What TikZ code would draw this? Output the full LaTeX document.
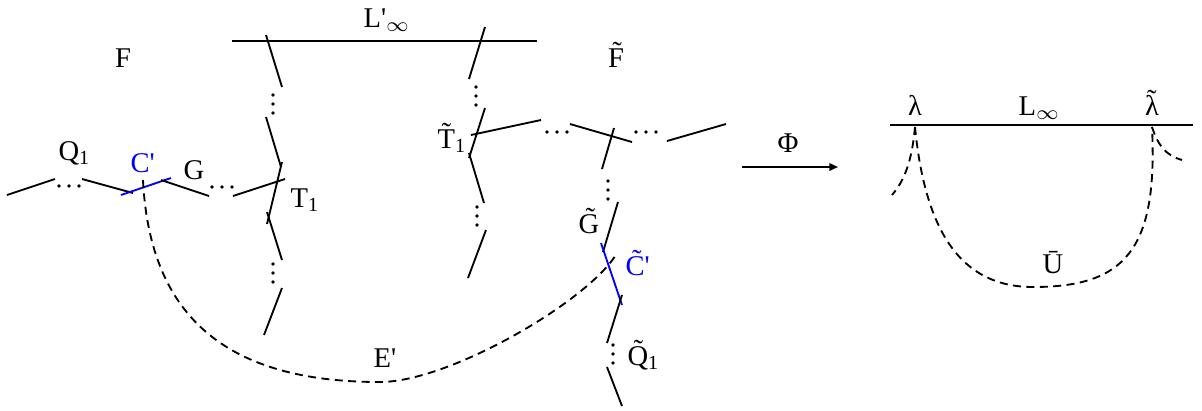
\documentclass[tikz,border=0pt]{standalone}
\usepackage{fontspec}
\setmainfont{Liberation Serif}
\usetikzlibrary{arrows.meta}

% three dots in a row / in a column, in px units
\newcommand{\rowdots}[2]{\foreach \k in {-1,0,1} \fill (#1+\k*10,#2) circle (0.65pt);}
\newcommand{\coldots}[2]{\foreach \k in {-1,0,1} \fill (#1,#2+\k*9) circle (0.65pt);}
\newcommand{\tq}{\textquotesingle}
\newcommand{\tildelam}{\ooalign{λ\cr\hidewidth\raisebox{0.2em}{\char"02DC}\hidewidth\cr}}

\begin{document}
\begin{tikzpicture}[
    x=0.35pt, y=-0.35pt,
    font=\fontsize{10}{12}\selectfont,
    seg/.style={line width=0.65pt},
    curve/.style={seg, blue},
    dashline/.style={seg, dash pattern=on 2.8pt off 1.9pt},
    lbl/.style={inner sep=0pt, anchor=base west},
    clbl/.style={inner sep=0pt, anchor=base}
]
\useasboundingbox (0,0) rectangle (1202,410);

% line at infinity of F
\draw[seg] (232,41) -- (537,41);

% left horizontal chain
\draw[seg] (7,195) -- (55,179);
\rowdots{69}{186}
\draw[seg] (82,179) -- (133,193);
\draw[curve] (121,195) -- (171,178);
\draw[seg] (161,180) -- (209,196);
\rowdots{222}{187}
\draw[seg] (233,196) -- (285,179);

% left vertical chain
\draw[seg] (266,35) -- (282,87);
\coldots{273}{104}
\draw[seg] (266,117) -- (281,167);
\draw[seg] (282,162) -- (267,224);
\draw[seg] (267,212) -- (282,260);
\coldots{273}{273}
\draw[seg] (282,288) -- (264,335);

% middle vertical chain
\draw[seg] (485,27) -- (469,79);
\coldots{476}{96}
\draw[seg] (485,108) -- (469,158);
\draw[seg] (469,153) -- (484,203);
\coldots{477}{216}
\draw[seg] (486,230) -- (468,278);

% upper horizontal chain of F~
\draw[seg] (471,135) -- (541,120);
\rowdots{557}{132}
\draw[seg] (570,124) -- (632,142);
\rowdots{646}{132}
\draw[seg] (667,141) -- (726,124);

% right vertical chain
\draw[seg] (614,128) -- (602,169);
\coldots{608}{190}
\draw[seg] (618,202) -- (603,252);
\draw[curve] (601,243) -- (622,305);
\draw[seg] (622,295) -- (607,343);
\coldots{613}{354}
\draw[seg] (607,367) -- (622,406);

% the exceptional curve E'
\draw[dashline] (143,180) .. controls (150,320) and (230,382) .. (380,382)
    .. controls (450,382) and (590,300) .. (617,253);

% labels, left part
\node[clbl] (F) at (123,67) {F};
\node[lbl] (Lp) at (363,27) {L\tq\textsubscript{$\infty$}};
\node[lbl] (Q) at (58,160) {Q\textsubscript{1}};
\node[lbl, text=blue] (Cp) at (130,172) {C\tq};
\node[lbl] (G) at (183,179) {G};
\node[lbl] (T) at (290,207) {T\textsubscript{1}};
\node[lbl] (Tt) at (437,148) {\~{T}\textsubscript{1}};
\node[clbl] (Ft) at (616,67) {\~{F}};
\node[lbl] (Gt) at (578,233) {\~{G}};
\node[lbl, text=blue] (Ct) at (625,275) {\~{C}\tq};
\node[lbl] (Qt) at (627,365) {\~{Q}\textsubscript{1}};
\node[lbl] (E) at (373,367) {E\tq};

% the map
\coordinate (phiA) at (742,167);
\coordinate (phiB) at (838,167);
\draw[seg, -{Triangle[length=3pt, width=2.6pt]}] (phiA) -- (phiB);
\node[clbl] (Phi) at (788,152) {Φ};

% right part
\draw[seg] (890,125) -- (1193,125);
\draw[dashline] (915,127) .. controls (925,230) and (960,287) .. (1033,287)
    .. controls (1125,287) and (1158,250) .. (1152,127);
\draw[dashline] (915,127) .. controls (912,160) and (905,180) .. (892,195);
\draw[dashline] (1152,127) .. controls (1158,145) and (1165,155) .. (1182,160);
\node[clbl] (lam) at (915,115) {λ};
\node[lbl] (L) at (1018,115) {L\textsubscript{$\infty$}};
\node[clbl] (lamt) at (1152,115) {\tildelam};
\node[clbl] (U) at (1053,273) {\={U}};

\end{tikzpicture}
\end{document}
